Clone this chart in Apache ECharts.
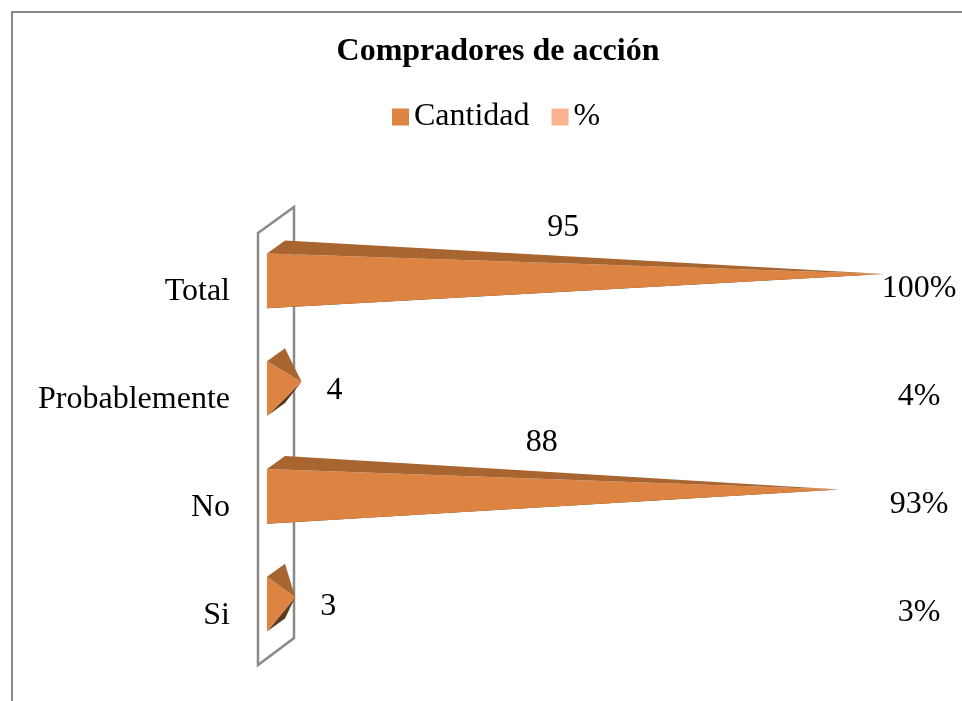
<!DOCTYPE html>
<html>
<head>
<meta charset="utf-8">
<script src="https://cdn.jsdelivr.net/npm/echarts@6/dist/echarts.min.js"></script>
<style>
  html, body { margin: 0; padding: 0; background: #fff; }
  #main { width: 962px; height: 701px; }
</style>
</head>
<body>
<div id="main"></div>
<script>
// datos
const categories = ['Si', 'No', 'Probablemente', 'Total'];
const cantidad = [3, 88, 4, 95];
const porcentaje = [3, 93, 4, 100];

const FONT = 'Liberation Serif';
const naranja = '#DD8443';
const naranjaOscuro = '#A86530';
const sombra = '#5E3A1C';
const salmon = '#F7B48F';

const myChart = echarts.init(document.getElementById('main'));

// cono / piramide horizontal estilo excel 3d
function renderCono(params, api) {
  const i = api.value(0);
  const v = api.value(1);
  const base = api.coord([0, i]);
  const fin = api.coord([v, i]);
  const band = api.size([0, 1])[1];
  const h = band * 0.255;
  const x0 = base[0];
  const yc = base[1];
  const yTop = yc - h, yBot = yc + h;
  const tip = [fin[0] + 9, yc - 7];
  const dx = 18, dy = -13;
  let lx, ly, align;
  if (v > 20) {
    lx = x0 + (tip[0] - x0) * 0.48; ly = yTop - 26; align = 'center';
  } else {
    lx = tip[0] + 25; ly = yc + 2; align = 'left';
  }
  return {
    type: 'group',
    children: [
      { type: 'polygon', shape: { points: [[x0, yBot], [x0 + dx, yBot + dy], tip] }, style: { fill: sombra } },
      { type: 'polygon', shape: { points: [[x0, yTop], [x0, yBot], tip] }, style: { fill: naranja } },
      { type: 'polygon', shape: { points: [[x0, yTop], [x0 + dx, yTop + dy], tip] }, style: { fill: naranjaOscuro } },
      { type: 'text', x: lx, y: ly, style: { text: String(v), fontFamily: FONT, fontSize: 32, fill: '#000', align: align, verticalAlign: 'middle' } }
    ]
  };
}

function renderPct(params, api) {
  const i = api.value(0);
  const v = api.value(1);
  const cs = params.coordSys;
  const c = api.coord([0, i]);
  return {
    type: 'text',
    x: cs.x + cs.width + 12,
    y: c[1] + 8,
    style: { text: v + '%', fontFamily: FONT, fontSize: 32, fill: '#000', align: 'center', verticalAlign: 'middle' }
  };
}

// pared lateral del eje
function renderPared(params, api) {
  const cs = params.coordSys;
  const gl = cs.x, gt = cs.y, gb = cs.y + cs.height;
  return {
    type: 'polygon',
    shape: { points: [[gl - 9, gt + 6], [gl + 27, gt - 20], [gl + 27, gb - 20], [gl - 9, gb + 7]] },
    style: { fill: 'none', stroke: '#8a8a8a', lineWidth: 2.5 }
  };
}

myChart.setOption({
  animation: false,
  textStyle: { fontFamily: FONT, color: '#000' },
  title: {
    text: 'Compradores de acción',
    left: 493,
    textAlign: 'center',
    top: 31,
    textStyle: { fontFamily: FONT, fontSize: 32, fontWeight: 'bold', color: '#000' }
  },
  legend: {
    data: ['Cantidad', '%'],
    left: 387,
    top: 96,
    icon: 'rect',
    itemWidth: 17,
    itemHeight: 17,
    itemGap: 22,
    textStyle: { fontFamily: FONT, fontSize: 32, color: '#000' }
  },
  grid: { left: 267, top: 227, width: 640, height: 431 },
  xAxis: { type: 'value', min: 0, max: 100, show: false },
  yAxis: {
    type: 'category',
    data: categories,
    axisLine: { show: false },
    axisTick: { show: false },
    axisLabel: { margin: 37, fontFamily: FONT, fontSize: 32, color: '#000', verticalAlign: 'top', lineHeight: 22 }
  },
  graphic: [
    { type: 'polyline', shape: { points: [[12, 701], [12, 12], [962, 12]] }, style: { stroke: '#888', lineWidth: 2, fill: null } }
  ],
  series: [
    {
      name: 'pared', type: 'custom', renderItem: renderPared, data: [[0, 0]],
      encode: { y: 0, x: 1 }, z: 1, silent: true, clip: false
    },
    {
      name: 'Cantidad', type: 'custom', renderItem: renderCono,
      data: cantidad.map((v, i) => [i, v]),
      encode: { y: 0, x: 1 }, itemStyle: { color: naranja }, z: 2, clip: false
    },
    {
      name: '%', type: 'custom', renderItem: renderPct,
      data: porcentaje.map((v, i) => [i, v]),
      encode: { y: 0, x: 1 }, itemStyle: { color: salmon }, z: 3, clip: false
    }
  ]
});
</script>
</body>
</html>
